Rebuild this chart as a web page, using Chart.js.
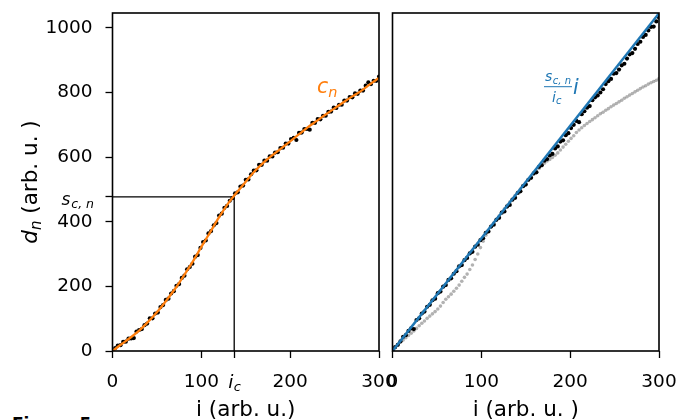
<!DOCTYPE html>
<html><head><meta charset="utf-8">
<script src="https://cdn.jsdelivr.net/npm/chart.js@4.4.1/dist/chart.umd.min.js"></script>
<style>
html,body{margin:0;padding:0;background:#fff;overflow:hidden;width:678px;height:420px;}
#l{position:absolute;left:0;top:0;width:420px;height:420px;}
#r{position:absolute;left:300px;top:0;width:378px;height:420px;}
#cap{position:absolute;left:12px;top:414px;font:bold 17px "DejaVu Sans";color:#000;}
</style></head><body>
<div id="cap">Figure 5</div>
<canvas id="l" width="420" height="420"></canvas>
<canvas id="r" width="378" height="420"></canvas>
<script>
// ---- data ----
const iDots = [0,3,6,9,12,15,18,21,24,27,30,33,36,39,42,45,48,51,54,57,60,63,66,69,72,75,78,81,84,87,90,93,96,99,102,105,108,111,114,117,120,123,126,129,132,135,138,141,144,147,150,153,156,159,162,165,168,171,174,177,180,183,186,189,192,195,198,201,204,207,210,213,216,219,222,225,228,231,234,237,240,243,246,249,252,255,258,261,264,267,270,273,276,279,282,285,288,291,294,297,300];
const dLeft = [0,9,17,18,28,29,38,39,40,60,65,68,80,85,101,101,116,119,136,142,158,162,178,185,202,207,226,233,253,260,270,292,297,319,337,342,364,371,389,396,419,425,443,449,465,473,488,491,509,512,530,531,547,558,559,576,576,589,589,602,602,614,615,628,629,642,642,656,660,653,675,676,687,687,685,706,706,718,717,728,728,740,741,753,752,762,762,775,775,786,785,797,796,806,806,821,831,826,836,836,849];
const dRight = [0,12,19,30,44,49,62,70,68,96,101,116,122,137,143,157,162,179,184,199,204,220,225,239,247,262,266,281,288,302,307,323,329,343,349,366,370,385,391,406,412,428,432,447,452,468,474,489,494,510,515,530,536,550,553,570,575,589,594,605,610,627,633,648,652,668,674,690,700,712,708,733,742,753,758,776,785,791,800,810,826,835,842,858,860,871,884,889,905,918,922,935,950,957,972,978,992,1003,1004,1020,1032];
const dGray = [2,10,20,27,34,41,48,55,62,70,78,86,93,101,108,115,122,130,139,150,160,168,176,185,194,204,216,228,238,252,266,283,300,320,340,358,372,385,396,408,418,429,440,451,461,471,481,491,501,510,520,529,538,547,556,565,573,581,588,593,599,606,613,622,631,640,649,658,666,676,684,691,698,704,710,716,722,728,734,739,745,750,756,761,766,771,776,782,787,792,797,802,807,812,817,821,826,830,834,838,843];
const iCurve = [0,10,20,30,40,50,60,70,80,90,100,110,120,130,140,150,160,170,180,190,200,210,220,230,240,250,260,270,280,290,300];
const cCurve = [0,21,41,63,90,120,154,191,232,275,322,368,414,456,491,524,556,583,606,627,649,671,693,712,732,751,770,788,805,826,845];
const iLine = [0,300];
const dLine = [0,1045];
const iC = 137;
const sCn = 477;
const xTickVals = [0,100,200,300];
const yTickVals = [0,200,400,600,800,1000];
const yMax = 1046;

// ---- helpers ----
const F = '"DejaVu Sans", sans-serif';
const pts = (xs, ys) => xs.map((x, k) => ({x: x, y: ys[k]}));
function frame(chart){
  const a = chart.chartArea, ctx = chart.ctx;
  ctx.save(); ctx.strokeStyle = '#000'; ctx.lineWidth = 1.6;
  ctx.strokeRect(a.left, a.top, a.right - a.left, a.bottom - a.top);
  ctx.restore();
}
function t(ctx, s, x, y, size, color, italic, align){
  ctx.font = (italic ? 'italic ' : '') + size + 'px ' + F;
  ctx.fillStyle = color; ctx.textAlign = align || 'left'; ctx.textBaseline = 'alphabetic';
  ctx.fillText(s, x, y);
  return ctx.measureText(s).width;
}
function noPad(s){ s.paddingLeft = 0; s.paddingRight = 0; s.paddingTop = 0; s.paddingBottom = 0; }
const xGrid = {display:true, drawOnChartArea:false, drawTicks:true, tickLength:7, tickWidth:1.3, tickColor:'#000'};

// ---- left chart ----
const leftDeco = {
  id: 'leftDeco',
  beforeDatasetsDraw(chart){
    const ctx = chart.ctx, x = chart.scales.x, y = chart.scales.y;
    const px = x.getPixelForValue(iC), py = y.getPixelForValue(sCn);
    ctx.save(); ctx.strokeStyle = '#000'; ctx.lineWidth = 1.3;
    ctx.beginPath(); ctx.moveTo(chart.chartArea.left, py); ctx.lineTo(px, py); ctx.lineTo(px, chart.chartArea.bottom); ctx.stroke();
    ctx.restore();
  },
  afterDatasetsDraw(chart){ frame(chart); },
  afterDraw(chart){
    const ctx = chart.ctx, x = chart.scales.x, y = chart.scales.y;
    ctx.save();
    // s_{c,n} tick label
    const py = y.getPixelForValue(sCn);
    ctx.font = 'italic 12.5px ' + F; const wsub = ctx.measureText('c, n').width;
    ctx.font = 'italic 17px ' + F; const ws = ctx.measureText('s').width;
    const x0 = 93 - wsub - ws;
    t(ctx, 's', x0, py + 8, 17, '#000', true);
    t(ctx, 'c, n', x0 + ws + 1, py + 11, 12.5, '#000', true);
    // i_c tick label
    const px = x.getPixelForValue(iC);
    t(ctx, 'i', px - 6, 387.5, 18.5, '#000', true);
    t(ctx, 'c', px - 0.5, 390.5, 13, '#000', true);
    // c_n curve label
    const wc = t(ctx, 'c', 317, 93, 20.5, '#ff7f0e', true);
    t(ctx, 'n', 317 + wc, 97, 14.5, '#ff7f0e', true);
    // x title
    ctx.font = '21.5px ' + F; ctx.textAlign = 'center'; ctx.fillStyle = '#000'; ctx.textBaseline = 'alphabetic';
    ctx.fillText('i (arb. u.)', (chart.chartArea.left + chart.chartArea.right) / 2, 416);
    // y title (rotated)
    ctx.translate(30, (chart.chartArea.top + chart.chartArea.bottom) / 2);
    ctx.rotate(-Math.PI / 2);
    ctx.font = 'italic 21.5px ' + F; const wd = ctx.measureText('d').width;
    ctx.font = 'italic 15px ' + F; const wn = ctx.measureText('n').width;
    ctx.font = '21.5px ' + F; const wr = ctx.measureText(' (arb. u. )').width;
    let sx = -(wd + wn + wr) / 2;
    t(ctx, 'd', sx, 7, 21.5, '#000', true); sx += wd;
    t(ctx, 'n', sx, 11, 15, '#000', true); sx += wn;
    t(ctx, ' (arb. u. )', sx, 7, 21.5, '#000', false);
    ctx.restore();
  }
};

new Chart(document.getElementById('l'), {
  type: 'scatter',
  data: { datasets: [
    {data: pts(iCurve, cCurve), showLine: true, borderColor: '#ff7f0e', borderWidth: 2.3, pointRadius: 0, cubicInterpolationMode: 'monotone', order: 0},
    {data: pts(iDots, dLeft), pointRadius: 2.1, pointBackgroundColor: '#000', pointBorderWidth: 0, showLine: false, order: 1}
  ]},
  options: {
    responsive: false, animation: false, devicePixelRatio: 1,
    layout: {padding: {left: 0, top: 13, right: 41, bottom: 0}},
    plugins: {legend: {display: false}, tooltip: {enabled: false}},
    scales: {
      x: {type: 'linear', min: 0, max: 300,
        afterBuildTicks: ax => { ax.ticks = [0,100,iC,200,300].map(v => ({value: v})); },
        ticks: {callback: v => (v === iC ? '' : String(v)), font: {family: F, size: 18.5}, color: '#000', padding: 13, maxRotation: 0, autoSkip: false},
        grid: xGrid, border: {display: false},
        afterFit: s => { s.height = 69; noPad(s); }},
      y: {type: 'linear', min: 0, max: yMax,
        afterBuildTicks: ax => { ax.ticks = [0,200,400,sCn,600,800,1000].map(v => ({value: v})); },
        ticks: {callback: v => (v === sCn ? '' : String(v)), font: {family: F, size: 18.5}, color: '#000', padding: 13, autoSkip: false},
        grid: xGrid, border: {display: false},
        afterFit: s => { s.width = 112.5; noPad(s); }}
    }
  },
  plugins: [leftDeco]
});

// ---- right chart ----
const rightDeco = {
  id: 'rightDeco',
  afterDatasetsDraw(chart){ frame(chart); },
  afterDraw(chart){
    const ctx = chart.ctx, o = 300;
    ctx.save();
    const B = '#1f77b4';
    // fraction s_{c,n}/i_c
    const ws = t(ctx, 's', 545 - o, 81, 14, B, true);
    t(ctx, 'c, n', 545 - o + ws + 0.5, 83.5, 10, B, true);
    ctx.strokeStyle = B; ctx.lineWidth = 1; ctx.beginPath(); ctx.moveTo(544 - o, 86.7); ctx.lineTo(572 - o, 86.7); ctx.stroke();
    const wi = t(ctx, 'i', 552 - o, 101.5, 14, B, true);
    t(ctx, 'c', 552 - o + wi, 104, 10, B, true);
    t(ctx, 'i', 573 - o, 93.5, 20.5, B, true);
    // x title
    ctx.font = '21.5px ' + F; ctx.textAlign = 'center'; ctx.fillStyle = '#000';
    ctx.fillText('i (arb. u. )', (chart.chartArea.left + chart.chartArea.right) / 2, 416);
    ctx.restore();
  }
};

new Chart(document.getElementById('r'), {
  type: 'scatter',
  data: { datasets: [
    {data: pts(iLine, dLine), showLine: true, borderColor: '#1f77b4', borderWidth: 2.5, pointRadius: 0, order: 0},
    {data: pts(iDots, dRight), pointRadius: 2.1, pointBackgroundColor: '#000', pointBorderWidth: 0, showLine: false, order: 1},
    {data: pts(iDots, dGray), pointRadius: 1.8, pointBackgroundColor: 'rgba(0,0,0,0.3)', pointBorderWidth: 0, showLine: false, order: 2}
  ]},
  options: {
    responsive: false, animation: false, devicePixelRatio: 1,
    layout: {padding: {left: 92.5, top: 13, right: 19, bottom: 0}},
    plugins: {legend: {display: false}, tooltip: {enabled: false}},
    scales: {
      x: {type: 'linear', min: 0, max: 300,
        afterBuildTicks: ax => { ax.ticks = xTickVals.map(v => ({value: v})); },
        ticks: {font: {family: F, size: 18.5}, color: '#000', padding: 13, maxRotation: 0, autoSkip: false},
        grid: xGrid, border: {display: false},
        afterFit: s => { s.height = 69; noPad(s); }},
      y: {type: 'linear', min: 0, max: yMax, display: false}
    }
  },
  plugins: [rightDeco]
});
</script>
</body></html>
